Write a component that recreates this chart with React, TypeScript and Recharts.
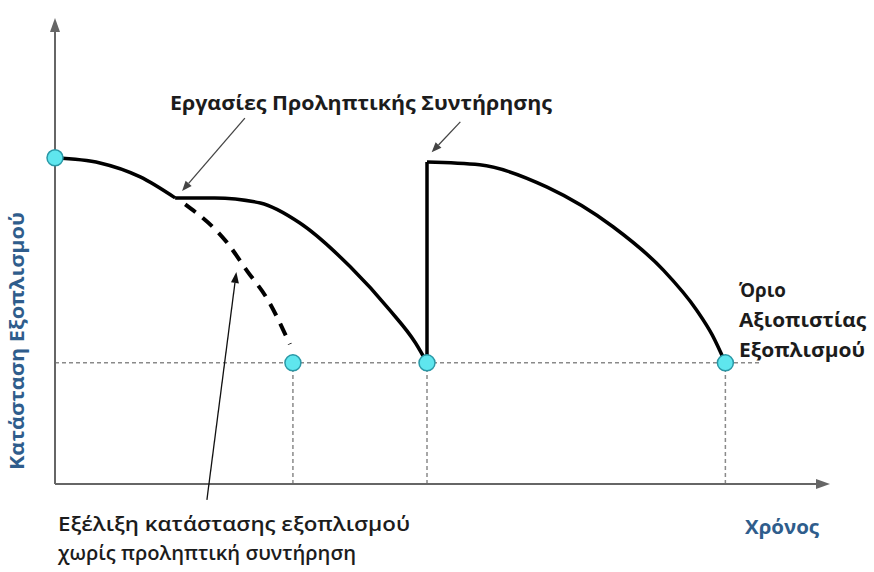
import React from "react";
import { ComposedChart, Line, Scatter, XAxis, YAxis, ReferenceLine } from "recharts";

// condition curve (time 0..10, condition 0..10)
const firstDropTime = [0, 0.58, 1.1, 1.55];
const firstDropCond = [7.0, 6.89, 6.59, 6.14];

const secondDropTime = [1.55, 2.06, 2.65, 3.16, 3.81, 4.32, 4.65, 4.8];
const secondDropCond = [6.14, 6.14, 6.03, 5.6, 4.66, 3.73, 3.03, 2.6];

const jumpTime = [4.8, 4.8];
const jumpCond = [2.6, 6.91];

const thirdDropTime = [4.8, 5.48, 6.35, 7.2, 7.85, 8.28, 8.48, 8.65];
const thirdDropCond = [6.91, 6.85, 6.37, 5.52, 4.59, 3.73, 3.2, 2.6];

const noMaintTime = [1.68, 2.22, 2.48, 2.74, 3.03];
const noMaintCond = [6.0, 5.18, 4.57, 3.97, 3.0];

const markerTime = [0, 3.07, 4.8, 8.65];
const markerCond = [7.0, 2.6, 2.6, 2.6];

const reliabilityLimit = 2.6;
const limitLineEnd = 9.1;

const zip = (xs: number[], ys: number[]) => xs.map((x, i) => ({ x, y: ys[i] }));

const firstDrop = zip(firstDropTime, firstDropCond);
const secondDrop = zip(secondDropTime, secondDropCond);
const jump = zip(jumpTime, jumpCond);
const thirdDrop = zip(thirdDropTime, thirdDropCond);
const noMaint = zip(noMaintTime, noMaintCond);
const markers = zip(markerTime, markerCond);

const arrow = (color: string, width: number, headLen: number, headHalf: number) => (p: any) => {
  const { x1, y1, x2, y2 } = p;
  const a = Math.atan2(y2 - y1, x2 - x1);
  const bx = x2 - headLen * Math.cos(a);
  const by = y2 - headLen * Math.sin(a);
  const nx = -Math.sin(a) * headHalf;
  const ny = Math.cos(a) * headHalf;
  return (
    <g>
      <line x1={x1} y1={y1} x2={bx} y2={by} stroke={color} strokeWidth={width} />
      <polygon points={`${x2},${y2} ${bx + nx},${by + ny} ${bx - nx},${by - ny}`} fill={color} />
    </g>
  );
};

const Marker = (p: any) => (
  <circle cx={p.cx} cy={p.cy} r={8} fill="#5fe6ee" stroke="#2a98a6" strokeWidth={1.5} />
);

const dark = "#1c1c1c";
const blue = "#2f5d8c";
const labelFont = "'Open Sans', 'DejaVu Sans', sans-serif";

export default function App() {
  return (
    <div style={{ position: "absolute", left: 0, top: 0, width: 874, height: 572, background: "#fff" }}>
      <ComposedChart width={874} height={572} margin={{ top: 18, right: 44, bottom: 88, left: 55 }}>
        <XAxis dataKey="x" type="number" domain={[0, 10]} hide />
        <YAxis type="number" domain={[0, 10]} hide />

        {/* reliability limit and drop lines */}
        <ReferenceLine
          segment={[{ x: 0, y: reliabilityLimit }, { x: limitLineEnd, y: reliabilityLimit }]}
          stroke="#8a8a8a" strokeWidth={1.5} strokeDasharray="4 3" ifOverflow="visible"
        />
        {markerTime.slice(1).map((t) => (
          <ReferenceLine
            key={t}
            segment={[{ x: t, y: 0 }, { x: t, y: reliabilityLimit }]}
            stroke="#8a8a8a" strokeWidth={1.5} strokeDasharray="4 3" ifOverflow="visible"
          />
        ))}

        {/* axes with arrowheads */}
        <ReferenceLine segment={[{ x: 0, y: 0 }, { x: 0, y: 10 }]} ifOverflow="visible" shape={arrow("#666", 2, 14, 5)} />
        <ReferenceLine segment={[{ x: 0, y: 0 }, { x: 10, y: 0 }]} ifOverflow="visible" shape={arrow("#666", 2, 14, 5)} />

        {/* annotation arrows */}
        <ReferenceLine segment={[{ x: 2.45, y: 7.85 }, { x: 1.64, y: 6.29 }]} ifOverflow="visible" shape={arrow("#444", 1.3, 10, 4)} />
        <ReferenceLine segment={[{ x: 5.23, y: 7.77 }, { x: 4.86, y: 7.12 }]} ifOverflow="visible" shape={arrow("#444", 1.3, 10, 4)} />
        <ReferenceLine segment={[{ x: 1.96, y: -0.34 }, { x: 2.34, y: 4.55 }]} ifOverflow="visible" shape={arrow("#111", 1.3, 11, 4)} />

        <Line data={noMaint} dataKey="y" type="monotone" stroke="#000" strokeWidth={4} strokeDasharray="13 9" dot={false} isAnimationActive={false} />
        <Line data={firstDrop} dataKey="y" type="monotone" stroke="#000" strokeWidth={3.5} dot={false} isAnimationActive={false} />
        <Line data={secondDrop} dataKey="y" type="monotone" stroke="#000" strokeWidth={3.5} dot={false} isAnimationActive={false} />
        <Line data={jump} dataKey="y" type="linear" stroke="#000" strokeWidth={3.5} dot={false} isAnimationActive={false} />
        <Line data={thirdDrop} dataKey="y" type="monotone" stroke="#000" strokeWidth={3.5} dot={false} isAnimationActive={false} />

        <Scatter data={markers} dataKey="y" shape={Marker} isAnimationActive={false} />
      </ComposedChart>

      <svg width={874} height={572} style={{ position: "absolute", left: 0, top: 0, pointerEvents: "none" }}>
        <g fontFamily={labelFont} fontWeight={700} fontSize={19} fill={dark}>
          <text x={170} y={110} textLength={382} lengthAdjust="spacingAndGlyphs">Εργασίες Προληπτικής Συντήρησης</text>
          <text x={739} y={297} textLength={47} lengthAdjust="spacingAndGlyphs">Όριο</text>
          <text x={739} y={327} textLength={127} lengthAdjust="spacingAndGlyphs">Αξιοπιστίας</text>
          <text x={739} y={357} textLength={126} lengthAdjust="spacingAndGlyphs">Εξοπλισμού</text>
          <text x={58} y={531} fontSize={20} fontWeight={600} textLength={352} lengthAdjust="spacingAndGlyphs">Εξέλιξη κατάστασης εξοπλισμού</text>
          <text x={58} y={560} fontSize={20} fontWeight={600} textLength={298} lengthAdjust="spacingAndGlyphs">χωρίς προληπτική συντήρηση</text>
        </g>
        <g fontFamily={labelFont} fontWeight={700} fontSize={19} fill={blue}>
          <text x={745} y={534} textLength={74} lengthAdjust="spacingAndGlyphs">Χρόνος</text>
          <text
            x={0} y={0} textAnchor="middle" textLength={258} lengthAdjust="spacingAndGlyphs"
            transform="translate(24 341) rotate(-90)"
          >
            Κατάσταση Εξοπλισμού
          </text>
        </g>
      </svg>
    </div>
  );
}
